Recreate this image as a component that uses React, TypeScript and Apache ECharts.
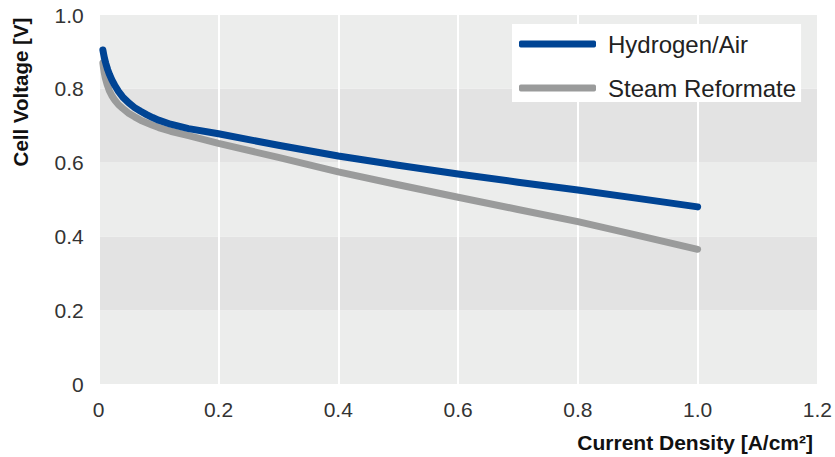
import React, { useEffect, useRef } from "react";
import * as echarts from "echarts";

const seriesNames = ["Hydrogen/Air", "Steam Reformate"];
const h2X = [0.007, 0.008, 0.009, 0.01, 0.012, 0.015, 0.018, 0.022, 0.027, 0.033, 0.04, 0.05, 0.06, 0.07, 0.08, 0.09, 0.1, 0.12, 0.15, 0.2, 0.3, 0.4, 0.5, 0.6, 0.7, 0.8, 0.9, 1.0];
const h2Y = [0.905, 0.896, 0.888, 0.88, 0.868, 0.852, 0.839, 0.824, 0.809, 0.793, 0.778, 0.762, 0.749, 0.739, 0.73, 0.722, 0.715, 0.704, 0.692, 0.678, 0.647, 0.618, 0.593, 0.569, 0.547, 0.526, 0.503, 0.48];
const srX = [0.007, 0.008, 0.009, 0.011, 0.014, 0.018, 0.022, 0.027, 0.033, 0.04, 0.05, 0.06, 0.07, 0.08, 0.09, 0.1, 0.12, 0.15, 0.2, 0.3, 0.4, 0.5, 0.6, 0.7, 0.8, 0.9, 1.0];
const srY = [0.87, 0.857, 0.846, 0.83, 0.812, 0.794, 0.781, 0.769, 0.757, 0.747, 0.734, 0.724, 0.715, 0.708, 0.701, 0.695, 0.685, 0.673, 0.652, 0.614, 0.575, 0.54, 0.506, 0.473, 0.44, 0.403, 0.365];
const xTicks = { min: 0, max: 1.2, interval: 0.2 };
const yTicks = { min: 0, max: 1.0, interval: 0.2 };
const xName = "Current Density [A/cm²]";
const yName = "Cell Voltage [V]";

const FONT = "'Liberation Sans', Arial, Helvetica, sans-serif";
const fmt = (v: number) => (v === 0 ? "0" : v.toFixed(1));

export default function App() {
  const ref = useRef<HTMLDivElement>(null);
  useEffect(() => {
    if (!ref.current) return;
    const chart = echarts.init(ref.current, undefined, { renderer: "svg" });
    chart.setOption({
      animation: false,
      backgroundColor: "#ffffff",
      textStyle: { fontFamily: FONT },
      grid: { left: 98.7, right: 16.3, top: 15, bottom: 73 },
      legend: {
        orient: "vertical",
        left: 512,
        top: 24,
        padding: [8, 5, 2, 7],
        backgroundColor: "#ffffff",
        itemWidth: 77,
        itemHeight: 7,
        itemGap: 20,
        icon: "roundRect",
        textStyle: { fontFamily: FONT, fontSize: 24, color: "#222", lineHeight: 24, padding: [0, 0, 0, 7] },
        data: seriesNames,
      },
      xAxis: {
        type: "value",
        min: xTicks.min,
        max: xTicks.max,
        interval: xTicks.interval,
        axisLine: { show: false },
        axisTick: { show: false },
        axisLabel: { formatter: fmt, fontSize: 21, color: "#333", margin: 15, fontFamily: FONT },
        splitLine: { show: true, lineStyle: { color: "#ffffff", width: 2 } },
      },
      yAxis: {
        type: "value",
        min: yTicks.min,
        max: yTicks.max,
        interval: yTicks.interval,
        axisLine: { show: false },
        axisTick: { show: false },
        axisLabel: { formatter: fmt, fontSize: 21, color: "#333", margin: 15, fontFamily: FONT },
        splitLine: { show: false },
        splitArea: { show: true, areaStyle: { color: ["#ecedec", "#e3e3e3"] } },
      },
      graphic: [
        {
          type: "text",
          x: 20,
          y: 92,
          rotation: Math.PI / 2,
          style: { text: yName, font: `bold 20.5px ${FONT}`, fill: "#111", textAlign: "center", textVerticalAlign: "middle" },
        },
        {
          type: "text",
          x: 813,
          y: 442,
          style: { text: xName, font: `bold 21px ${FONT}`, fill: "#111", textAlign: "right", textVerticalAlign: "middle" },
        },
      ],
      series: [
        {
          name: seriesNames[0],
          type: "line",
          z: 3,
          showSymbol: false,
          symbol: "none",
          color: "#004494",
          lineStyle: { width: 7, color: "#004494", cap: "round", join: "round" },
          data: h2X.map((x, i) => [x, h2Y[i]]),
        },
        {
          name: seriesNames[1],
          type: "line",
          z: 2,
          showSymbol: false,
          symbol: "none",
          color: "#9a9b9b",
          lineStyle: { width: 7, color: "#9a9b9b", cap: "round", join: "round" },
          data: srX.map((x, i) => [x, srY[i]]),
        },
      ],
    });
    return () => chart.dispose();
  }, []);
  return <div ref={ref} style={{ width: 835, height: 457, position: "absolute", left: 0, top: 0 }} />;
}
